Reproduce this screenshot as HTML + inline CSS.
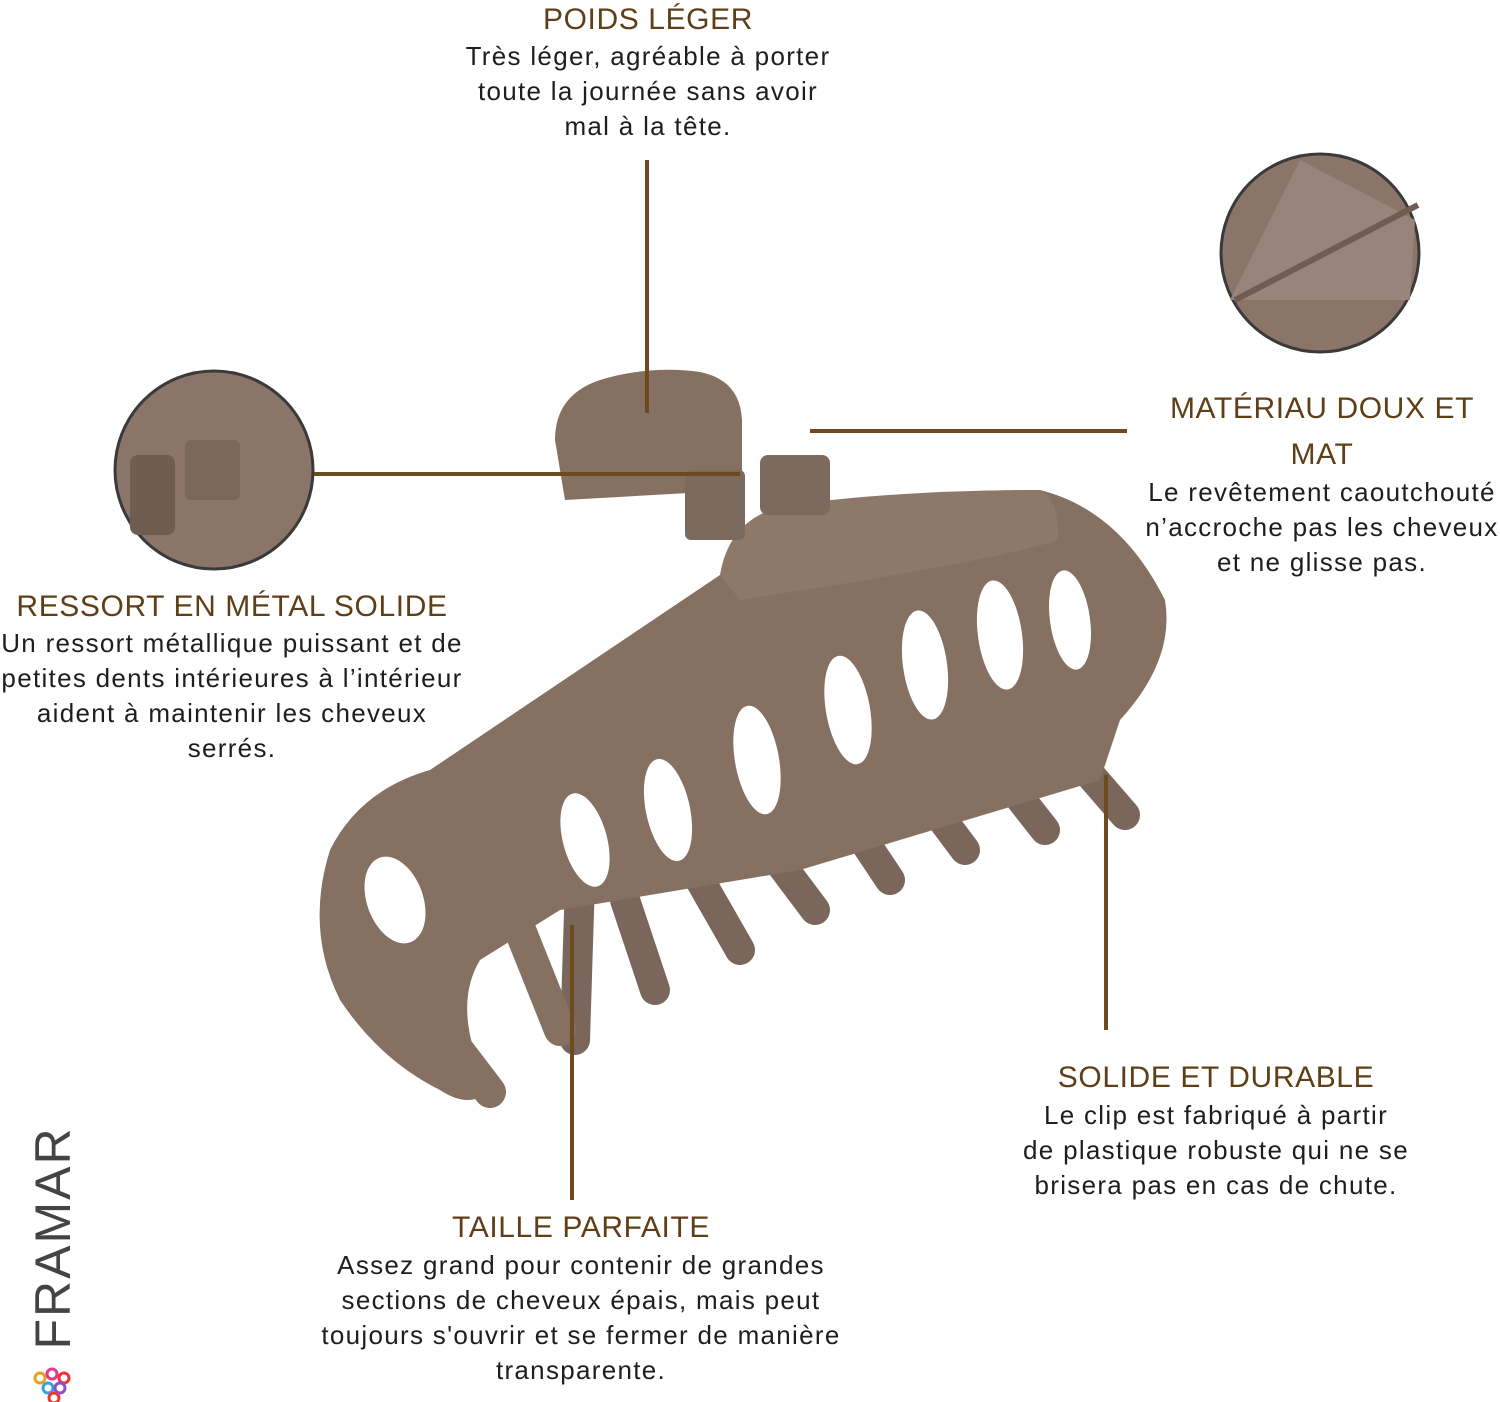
<!DOCTYPE html>
<html><head><meta charset="utf-8"><style>
body{margin:0;width:1500px;height:1402px;background:#fff;position:relative;overflow:hidden;font-family:"Liberation Sans",sans-serif}
.h{position:absolute;color:#5e3f17;font-size:30px;letter-spacing:0.6px;text-align:center;white-space:nowrap;transform:translateX(-50%);line-height:46px}
.b{position:absolute;color:#1e1e1e;font-size:26px;letter-spacing:1.3px;text-align:center;white-space:nowrap;transform:translateX(-50%);line-height:35px}
</style></head><body>
<svg width="1500" height="1402" style="position:absolute;left:0;top:0">
<g fill="#857062" stroke="none">
<g stroke="#7a665a" stroke-width="30" stroke-linecap="round" fill="none">
<line x1="580" y1="880" x2="575" y2="1040"/>
<line x1="625" y1="900" x2="655" y2="990"/>
<line x1="700" y1="880" x2="740" y2="950"/>
<line x1="770" y1="850" x2="815" y2="910"/>
<line x1="850" y1="820" x2="890" y2="880"/>
<line x1="920" y1="790" x2="965" y2="850"/>
<line x1="990" y1="760" x2="1045" y2="830"/>
<line x1="1060" y1="740" x2="1125" y2="815"/>
</g>
<path d="M555,440 Q555,395 600,380 Q650,365 700,372 Q740,380 742,420 L742,490 L565,500 Z"/>
<path d="M330,850 Q360,790 430,770 L720,575 Q760,490 1040,490 Q1120,510 1165,600 Q1175,660 1120,720 L1100,780 L800,870 L560,910 L480,960 Q450,1010 490,1090 Q470,1110 440,1090 Q380,1060 340,1000 Q305,930 330,850 Z"/>
<path d="M720,575 Q730,515 790,505 Q900,490 1040,490 Q1060,500 1058,540 Q1000,560 740,600 Z" fill="#8d786a"/>
<rect x="685" y="470" width="60" height="70" rx="6" fill="#7d6a5e"/>
<rect x="760" y="455" width="70" height="60" rx="8" fill="#7d6a5e"/>
</g>
<g fill="#fff">
<ellipse cx="585" cy="840" rx="22" ry="48" transform="rotate(-15 585 840)"/>
<ellipse cx="668" cy="810" rx="22" ry="52" transform="rotate(-12 668 810)"/>
<ellipse cx="757" cy="760" rx="22" ry="55" transform="rotate(-10 757 760)"/>
<ellipse cx="848" cy="710" rx="22" ry="55" transform="rotate(-10 848 710)"/>
<ellipse cx="925" cy="665" rx="22" ry="55" transform="rotate(-8 925 665)"/>
<ellipse cx="1000" cy="635" rx="22" ry="55" transform="rotate(-8 1000 635)"/>
<ellipse cx="1070" cy="620" rx="20" ry="50" transform="rotate(-8 1070 620)"/>
<ellipse cx="395" cy="900" rx="28" ry="45" transform="rotate(-20 395 900)"/>
</g>
<g stroke="#857062" stroke-width="32" stroke-linecap="round" fill="none">
<line x1="420" y1="1000" x2="490" y2="1092"/>
<line x1="520" y1="930" x2="560" y2="1030"/>
</g>
<circle cx="1320" cy="253" r="99" fill="#8a7568" stroke="#3a3a3a" stroke-width="3"/>
<path d="M1300,160 L1415,220 L1410,300 L1230,300 Z" fill="#97847a"/>
<line x1="1235" y1="300" x2="1418" y2="205" stroke="#6f5d52" stroke-width="6"/>
<circle cx="214" cy="470" r="99" fill="#8a7568" stroke="#3a3a3a" stroke-width="3"/>
<rect x="130" y="455" width="45" height="80" rx="8" fill="#6f5d52"/>
<rect x="185" y="440" width="55" height="60" rx="6" fill="#7a685c"/>
<g stroke="#6e4b1e" stroke-width="4">
<line x1="647" y1="160" x2="647" y2="413"/>
<line x1="810" y1="431" x2="1127" y2="431"/>
<line x1="314" y1="474" x2="740" y2="474"/>
<line x1="1106" y1="775" x2="1106" y2="1030"/>
<line x1="572" y1="925" x2="572" y2="1200"/>
</g>
<g fill="none" stroke-width="3">
<circle cx="40" cy="1378" r="5" stroke="#e8a020"/>
<circle cx="52" cy="1374" r="5" stroke="#e23b8a"/>
<circle cx="64" cy="1378" r="5" stroke="#e33"/>
<circle cx="48" cy="1388" r="5" stroke="#3aa0e0"/>
<circle cx="60" cy="1388" r="5" stroke="#8a4fd0"/>
<circle cx="54" cy="1398" r="5" stroke="#e33"/>
</g>
</svg>
<div style="position:absolute;left:53px;top:1238px;transform:translate(-50%,-50%) rotate(-90deg);font-size:50px;color:#444;font-weight:300;letter-spacing:2px;white-space:nowrap">FRAMAR</div>

<div class="h" style="left:648px;top:-3px">POIDS LÉGER</div>
<div class="b" style="left:648px;top:39px">Très léger, agréable à porter<br>toute la journée sans avoir<br>mal à la tête.</div>

<div class="h" style="left:1322px;top:386px">MATÉRIAU DOUX ET<br>MAT</div>
<div class="b" style="left:1322px;top:475px">Le revêtement caoutchouté<br>n’accroche pas les cheveux<br>et ne glisse pas.</div>

<div class="h" style="left:232px;top:584px">RESSORT EN MÉTAL SOLIDE</div>
<div class="b" style="left:232px;top:626px">Un ressort métallique puissant et de<br>petites dents intérieures à l’intérieur<br>aident à maintenir les cheveux<br>serrés.</div>

<div class="h" style="left:1216px;top:1055px">SOLIDE ET DURABLE</div>
<div class="b" style="left:1216px;top:1098px">Le clip est fabriqué à partir<br>de plastique robuste qui ne se<br>brisera pas en cas de chute.</div>

<div class="h" style="left:581px;top:1205px">TAILLE PARFAITE</div>
<div class="b" style="left:581px;top:1248px">Assez grand pour contenir de grandes<br>sections de cheveux épais, mais peut<br>toujours s'ouvrir et se fermer de manière<br>transparente.</div>
</body></html>
